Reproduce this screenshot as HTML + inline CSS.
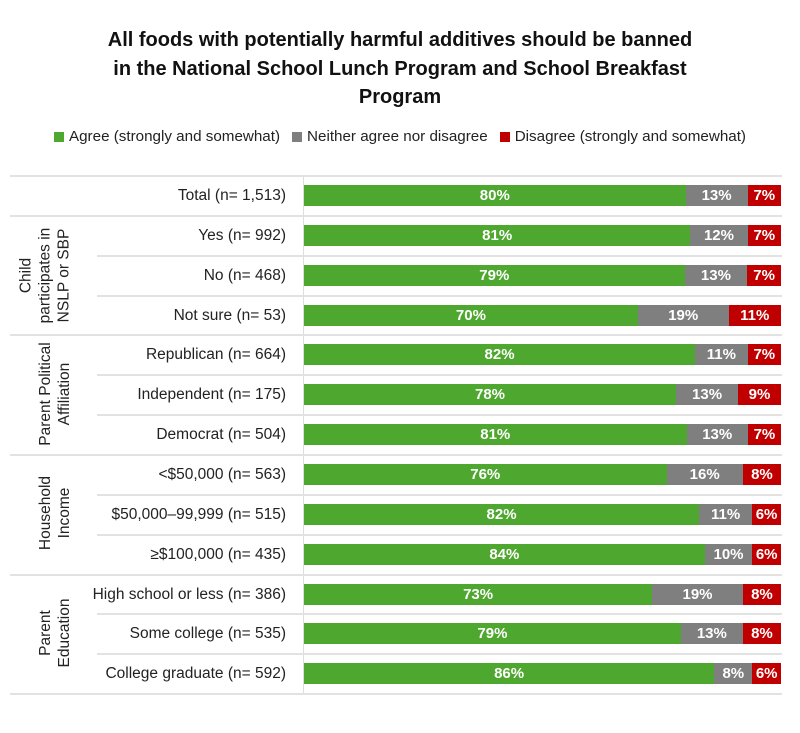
<!DOCTYPE html>
<html><head><style>
body{margin:0;width:800px;height:723px;background:#fff;font-family:"Liberation Sans",sans-serif;position:relative;overflow:hidden}
.title{position:absolute;top:26px;left:0;width:800px;text-align:center;font-weight:bold;font-size:20px;line-height:28.5px;color:#111}
.legend{position:absolute;top:128px;left:0;width:800px;text-align:center;font-size:15.2px;color:#222;white-space:nowrap}
.legend span{margin:0 6px}
.sw{display:inline-block;width:10px;height:10px;margin-right:5px;vertical-align:-1px}
.hl{position:absolute;height:2px;background:#e2e2e2;right:18px}
.row{position:absolute;left:0;width:800px;height:40px}
.lab{position:absolute;right:514px;top:10px;line-height:21px;font-size:15.5px;color:#222;white-space:nowrap}
.bar{position:absolute;left:304px;width:477px;top:10px;height:21px;display:flex}
.bar div{height:21px;color:#fff;font-weight:bold;font-size:15px;line-height:21px;text-align:center;overflow:hidden}
.g{background:#4ea72e}.y{background:#7f7f7f}.r{background:#c00000}
.grp{position:absolute;font-size:15.5px;color:#222;text-align:center;line-height:19px;transform:rotate(-90deg);white-space:nowrap}
</style></head><body>
<div class="title">All foods with potentially harmful additives should be banned<br>in the National School Lunch Program and School Breakfast<br>Program</div>
<div class="legend"><span><i class="sw g"></i>Agree (strongly and somewhat)</span><span><i class="sw y"></i>Neither agree nor disagree</span><span><i class="sw r"></i>Disagree (strongly and somewhat)</span></div>
<div style="position:absolute;left:303px;top:176px;width:1px;height:518px;background:#ddd"></div>
<div id="c"></div>
<div class="grp" style="left:-55px;top:247px;width:200px">Child<br>participates in<br>NSLP or SBP</div>
<div class="grp" style="left:-45px;top:375px;width:200px">Parent Political<br>Affiliation</div>
<div class="grp" style="left:-45px;top:494px;width:200px">Household<br>Income</div>
<div class="grp" style="left:-45px;top:614px;width:200px">Parent<br>Education</div>
<script>
var d=[["Total (n= 1,513)",80,13,7],["Yes (n= 992)",81,12,7],["No (n= 468)",79,13,7],["Not sure (n= 53)",70,19,11],["Republican (n= 664)",82,11,7],["Independent (n= 175)",78,13,9],["Democrat (n= 504)",81,13,7],["<$50,000 (n= 563)",76,16,8],["$50,000–99,999 (n= 515)",82,11,6],["≥$100,000 (n= 435)",84,10,6],["High school or less (n= 386)",73,19,8],["Some college (n= 535)",79,13,8],["College graduate (n= 592)",86,8,6]];
var grpStart={0:1,1:1,4:1,7:1,10:1,13:1};
var h="";var p=39.85,t0=175;
for(var i=0;i<=13;i++){var y=Math.round(t0+i*p);h+='<div class="hl" style="top:'+y+'px;left:'+(grpStart[i]?10:97)+'px"></div>';}
d.forEach(function(r,i){var y=Math.round(t0+i*p);var s=r[1]+r[2]+r[3];
h+='<div class="row" style="top:'+y+'px"><div class="lab">'+r[0].replace('<','&lt;')+'</div><div class="bar"><div class="g" style="width:'+(r[1]/s*100)+'%">'+r[1]+'%</div><div class="y" style="width:'+(r[2]/s*100)+'%">'+r[2]+'%</div><div class="r" style="width:'+(r[3]/s*100)+'%">'+r[3]+'%</div></div></div>';});
document.getElementById("c").innerHTML=h;
</script>
</body></html>
